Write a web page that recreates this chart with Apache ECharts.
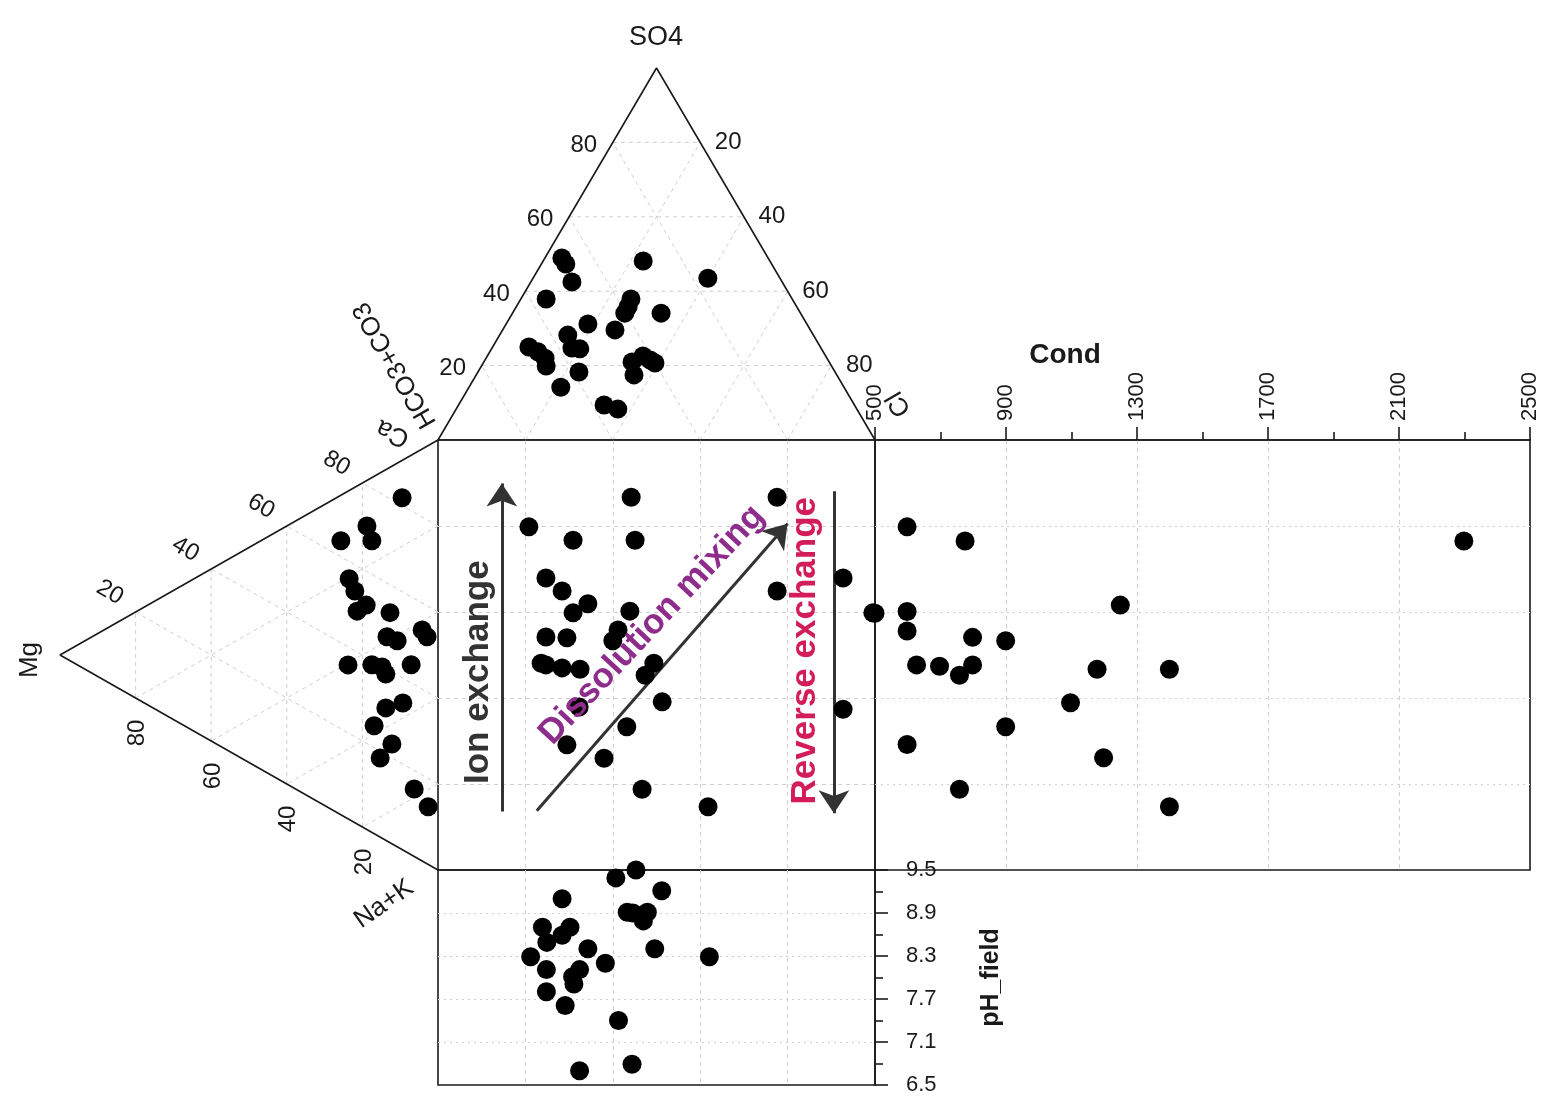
<!DOCTYPE html>
<html>
<head>
<meta charset="utf-8">
<title>Durov diagram</title>
<script src="https://cdn.jsdelivr.net/npm/echarts@6/dist/echarts.min.js"></script>
<style>
  html, body { margin: 0; padding: 0; background: #fff; }
  #chart { width: 1556px; height: 1113px; }
</style>
</head>
<body>
<div id="chart"></div>
<script>
// anion triangle, % of SO4 and Cl (HCO3+CO3 is the rest)
const anionSO4 = [48.9, 47.3, 42.5, 37.9, 48.1, 43.5, 37.9, 35.8, 34.1, 34.1, 31.2, 29.6, 28.2, 25.0,
  23.7, 22.0, 19.9, 24.7, 24.5, 18.3, 14.2, 21.0, 22.6, 21.5, 20.7, 17.5, 9.4, 8.3]
const anionCl = [3.9, 5.6, 9.4, 5.8, 22.9, 40.0, 25.2, 25.6, 25.7, 34.0, 18.7, 25.7, 15.6, 8.3,
  11.0, 13.5, 14.8, 18.3, 20.2, 23.1, 21.0, 33.9, 35.6, 37.8, 39.3, 36.1, 33.3, 37.0]

// cation triangle, % of Mg and Ca (Na+K is the rest)
const cationMg = [9.5, 18.8, 17.5, 25.7, 23.5, 22.0, 19.0, 21.4, 12.7, 4.2, 2.9, 13.5, 10.8,
  23.8, 17.5, 14.8, 13.8, 7.1, 9.3, 13.8, 16.9, 12.2, 15.3, 6.3, 2.6]
const cationCa = [81.8, 70.6, 67.8, 63.7, 56.0, 53.9, 52.1, 49.5, 53.5, 53.7, 52.8, 47.5, 47.9,
  35.8, 39.0, 39.8, 38.7, 44.2, 34.2, 30.8, 25.1, 23.2, 18.4, 15.7, 13.4]

// central square
const squareX = [44.2, 77.6, 20.8, 30.9, 45.1, 92.7, 24.7, 28.4, 77.6, 34.3, 30.9, 43.9, 99.5, 41.2,
  40.0, 24.7, 29.5, 23.6, 24.7, 28.4, 32.5, 49.4, 47.4, 51.3, 32.3, 43.2, 29.5, 38.0, 46.7, 61.8, 92.7]
const squareY = [86.7, 86.7, 79.8, 76.7, 76.7, 67.9, 67.9, 64.9, 64.9, 61.9, 59.8, 60.2, 59.8, 55.8,
  53.3, 54.2, 54.0, 48.1, 47.7, 47.0, 46.7, 48.1, 45.3, 39.1, 37.9, 33.3, 29.1, 26.0, 18.8, 14.7, 37.4]

// conductivity panel
const condValues = [598, 775, 2298, 1249, 500, 598, 598, 798, 899, 627, 697, 798, 758, 1178, 1399,
  1097, 899, 598, 1198, 758, 1399]
const condY = [79.8, 76.5, 76.5, 61.6, 59.7, 60.1, 55.6, 54.1, 53.3, 47.7, 47.4, 47.7, 45.3, 46.7,
  46.7, 38.9, 33.3, 29.2, 26.1, 18.8, 14.7]

// field pH panel
const phX = [45.3, 40.7, 51.2, 28.4, 43.3, 44.6, 47.9, 47.0, 23.9, 30.2, 28.4, 24.9, 34.3, 49.6,
  21.2, 62.1, 38.3, 24.8, 32.4, 30.8, 31.1, 24.8, 29.1, 41.3, 44.4, 32.4]
const phValues = [9.5, 9.39, 9.21, 9.10, 8.91, 8.90, 8.91, 8.79, 8.70, 8.70, 8.59, 8.49, 8.40, 8.40,
  8.29, 8.29, 8.20, 8.11, 8.11, 8.01, 7.91, 7.80, 7.61, 7.40, 6.79, 6.70]

const ternaryTicks = [20, 40, 60, 80]

const FONT = 'Liberation Sans, Arial, Helvetica, sans-serif'
const INK = '#1a1a1a'
const GRID_GREY = '#cfcfcf'

// top triangle: HCO3 bottom-left, Cl bottom-right, SO4 at the apex
const anionXY = (so4, cl) => [cl + so4 / 2, so4]
// left triangle: Ca top-right, Na+K bottom-right, Mg at the left apex
const cationXY = (mg, ca) => [100 - mg, ca + mg / 2]

const segment = (idx, points, style) => ({
  type: 'line',
  xAxisIndex: idx,
  yAxisIndex: idx,
  data: points,
  symbol: 'none',
  silent: true,
  lineStyle: style,
  z: 1
})

const dashed = { color: GRID_GREY, width: 1, type: [4, 4] }
const outline = { color: INK, width: 1.6 }

const ternaryGridSeries = () => {
  const out = []
  ternaryTicks.forEach(k => {
    out.push(segment(0, [anionXY(k, 0), anionXY(k, 100 - k)], dashed))
    out.push(segment(0, [anionXY(0, k), anionXY(100 - k, k)], dashed))
    out.push(segment(0, [anionXY(0, 100 - k), anionXY(100 - k, 0)], dashed))
    out.push(segment(1, [cationXY(k, 0), cationXY(k, 100 - k)], dashed))
    out.push(segment(1, [cationXY(0, k), cationXY(100 - k, k)], dashed))
    out.push(segment(1, [cationXY(0, 100 - k), cationXY(100 - k, 0)], dashed))
  })
  out.push(segment(0, [anionXY(0, 0), anionXY(100, 0), anionXY(0, 100), anionXY(0, 0)], outline))
  out.push(segment(1, [cationXY(0, 100), cationXY(100, 0), cationXY(0, 0)], outline))
  return out
}

// label offsets are turned with the label, so they are given in the label's own frame
const tickLabels = (idx, points, offset, rotate) => ({
  type: 'scatter',
  xAxisIndex: idx,
  yAxisIndex: idx,
  symbolSize: 0,
  silent: true,
  clip: false,
  data: points,
  itemStyle: { opacity: 1 },
  label: {
    show: true,
    position: 'inside',
    formatter: p => p.value[2],
    offset: offset,
    rotate: rotate,
    align: 'center',
    verticalAlign: 'middle',
    fontSize: 24,
    fontFamily: FONT,
    color: INK
  }
})

const dots = (idx, data) => ({
  type: 'scatter',
  xAxisIndex: idx,
  yAxisIndex: idx,
  data: data,
  symbol: 'circle',
  symbolSize: 19,
  clip: false,
  itemStyle: { color: '#000', opacity: 1 },
  z: 5
})

const note = (x, y, text, rotate, color) => ({
  type: 'scatter',
  xAxisIndex: 2,
  yAxisIndex: 2,
  symbolSize: 0,
  silent: true,
  data: [[x, y]],
  z: 10,
  itemStyle: { opacity: 1 },
  label: {
    show: true,
    position: 'inside',
    formatter: text,
    rotate: rotate,
    align: 'center',
    verticalAlign: 'middle',
    fontSize: 35,
    fontWeight: 'bold',
    fontFamily: FONT,
    color: color
  }
})

const hiddenAxis = (idx) => ({ gridIndex: idx, type: 'value', min: 0, max: 100, show: false })

const plainAxis = (idx, splitType) => ({
  gridIndex: idx,
  type: 'value',
  min: 0,
  max: 100,
  interval: 20,
  axisLine: { show: false, onZero: false },
  axisTick: { show: false },
  axisLabel: { show: false },
  splitLine: { show: true, showMinLine: false, showMaxLine: false, lineStyle: { color: GRID_GREY, width: 1, type: splitType } }
})

const cornerText = (x, y, text, rotationDeg, size) => ({
  type: 'text',
  x: x,
  y: y,
  rotation: rotationDeg * Math.PI / 180,
  silent: true,
  z: 20,
  style: {
    text: text,
    fill: INK,
    fontSize: size,
    fontFamily: FONT,
    align: 'center',
    verticalAlign: 'middle'
  }
})

const getOption = () => {
  const frame = { show: true, borderColor: INK, borderWidth: 1.6, backgroundColor: 'transparent' }
  const tickStyle = { color: INK, width: 1.6 }

  return {
    animation: false,
    backgroundColor: '#fff',
    textStyle: { fontFamily: FONT },
    grid: [
      { left: 438, top: 68, width: 437, height: 372 },
      { left: 60, top: 440, width: 378, height: 430 },
      Object.assign({ left: 438, top: 440, width: 437, height: 430 }, frame),
      Object.assign({ left: 875, top: 440, width: 655, height: 430 }, frame),
      Object.assign({ left: 438, top: 870, width: 437, height: 215 }, frame)
    ],
    xAxis: [
      hiddenAxis(0),
      hiddenAxis(1),
      plainAxis(2, [4, 4]),
      {
        gridIndex: 3,
        type: 'value',
        min: 500,
        max: 2500,
        interval: 400,
        position: 'top',
        axisLine: { show: true, onZero: false, lineStyle: tickStyle },
        axisTick: { show: true, inside: false, length: 13, lineStyle: tickStyle },
        minorTick: { show: true, splitNumber: 2, length: 8, lineStyle: tickStyle },
        axisLabel: { rotate: -90, fontSize: 22, margin: 19, color: INK, fontFamily: FONT, formatter: v => String(v) },
        splitLine: { show: true, showMinLine: false, showMaxLine: false, lineStyle: { color: GRID_GREY, width: 1, type: [4, 4] } }
      },
      plainAxis(4, [4, 4])
    ],
    yAxis: [
      hiddenAxis(0),
      hiddenAxis(1),
      plainAxis(2, [4, 4]),
      plainAxis(3, [2, 4]),
      {
        gridIndex: 4,
        type: 'value',
        min: 6.5,
        max: 9.5,
        interval: 0.6,
        position: 'right',
        axisLine: { show: true, onZero: false, lineStyle: tickStyle },
        axisTick: { show: true, inside: false, length: 13, lineStyle: tickStyle },
        minorTick: { show: true, splitNumber: 2, length: 8, lineStyle: tickStyle },
        axisLabel: { fontSize: 22, margin: 31, color: INK, fontFamily: FONT, formatter: v => v.toFixed(1) },
        splitLine: { show: true, showMinLine: false, showMaxLine: false, lineStyle: { color: GRID_GREY, width: 1, type: [2, 4] } },
        name: 'pH_field',
        nameLocation: 'middle',
        nameRotate: 90,
        nameGap: 104,
        nameTextStyle: { fontSize: 25, fontWeight: 'bold', color: INK, fontFamily: FONT }
      }
    ],
    graphic: [
      cornerText(656, 38, 'SO4', 0, 27),
      cornerText(395, 365, 'HCO3+CO3', 120, 26),
      cornerText(393, 433, 'Ca', 155, 26),
      cornerText(899, 404, 'Cl', 120, 26),
      cornerText(30, 660, 'Mg', 90, 26),
      cornerText(384, 904, 'Na+K', 35, 26),
      {
        type: 'text',
        x: 1065,
        y: 355,
        silent: true,
        style: { text: 'Cond', fill: INK, fontSize: 28, fontWeight: 'bold', fontFamily: FONT, align: 'center', verticalAlign: 'middle' }
      }
    ],
    series: [
      ...ternaryGridSeries(),
      tickLabels(0, ternaryTicks.map(k => [...anionXY(k, 0), k]), [-29, 3], 0),
      tickLabels(0, ternaryTicks.map(k => [...anionXY(100 - k, k), k]), [28, 0], 0),
      tickLabels(1, ternaryTicks.map(k => [...cationXY(100 - k, k), k]), [-32, -4], -30),
      tickLabels(1, ternaryTicks.map(k => [...cationXY(k, 0), k]), [-35, 2], 90),
      dots(0, anionSO4.map((s, i) => anionXY(s, anionCl[i]))),
      dots(1, cationMg.map((m, i) => cationXY(m, cationCa[i]))),
      dots(2, squareX.map((x, i) => [x, squareY[i]])),
      dots(3, condValues.map((c, i) => [c, condY[i]])),
      dots(4, phX.map((x, i) => [x, phValues[i]])),
      Object.assign(note(9.2, 46, 'Ion exchange', 90, '#333333'), {
        markLine: {
          silent: true,
          symbol: ['none', 'arrow'],
          symbolSize: 23,
          label: { show: false },
          lineStyle: { color: '#333333', width: 3, type: 'solid', opacity: 1 },
          data: [
            [{ coord: [14.6, 13.6] }, { coord: [14.6, 89.9] }],
            [{ coord: [22.6, 13.8] }, { coord: [80.0, 80.5] }],
            [{ coord: [90.6, 88.1] }, { coord: [90.6, 13.2] }]
          ]
        }
      }),
      note(49, 57, 'Dissolution mixing', 47, '#8e2c8c'),
      note(84, 51, 'Reverse exchange', 90, '#d31d5b')
    ]
  }
}

const initChart = () => {
  const chart = echarts.init(document.getElementById('chart'))
  chart.setOption(getOption())
}

if (typeof window !== 'undefined') {
  initChart()
}
</script>
</body>
</html>
